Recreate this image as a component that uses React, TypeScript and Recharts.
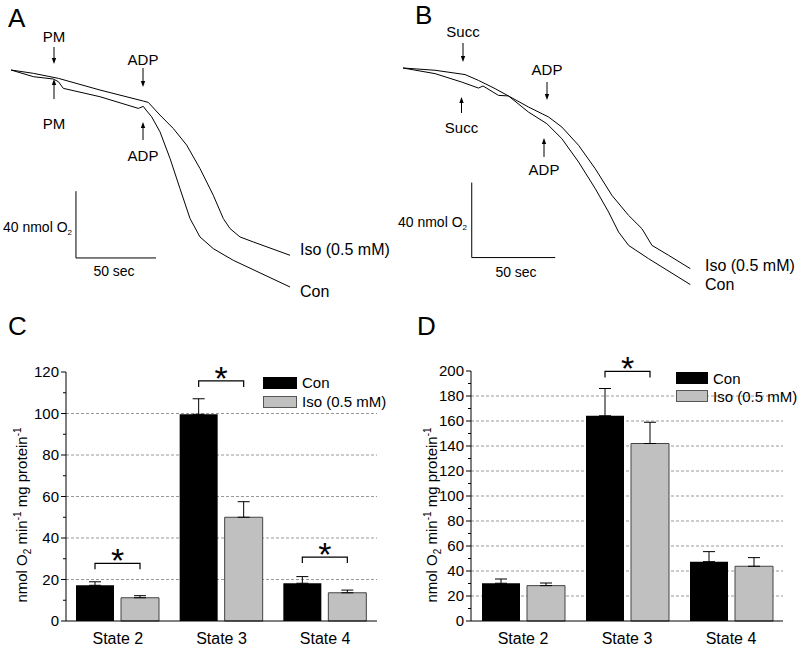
import React from "react";
import {
  LineChart,
  Line,
  XAxis,
  YAxis,
  BarChart,
  Bar,
  ErrorBar,
  CartesianGrid,
  Legend,
  ReferenceLine,
  Rectangle,
} from "recharts";

const FONT = '"Liberation Sans", Arial, Helvetica, sans-serif';
const BAR_GAP = 7;

// Panel A: pyruvate/malate traces (time in s, O2 in nmol)
const aConTime = [0, 14, 26.4, 29.6, 32.7, 55.6, 79.6, 82.7, 84.4, 87.9, 93.1, 99.4, 105.6, 111.9, 118.1, 126.4, 138.9, 174.4];
const aConO2 = [220, 216, 214.6, 213, 209, 204, 197, 198.2, 196, 192, 183, 167, 149, 131, 120, 113, 106, 90];
const aIsoTime = [0, 14, 27.5, 29.6, 55.6, 82.7, 85.8, 93.1, 101.4, 109.8, 118.1, 126.4, 132.7, 136.9, 143.1, 151.4, 174.4];
const aIsoO2 = [220, 218, 215.4, 215, 208, 201.4, 200.6, 193, 185, 175, 161, 145, 131, 125, 120, 117, 109];

// Panel B: succinate traces
const bConTime = [0, 19.2, 35.2, 45.2, 48, 57.2, 63.2, 75.2, 86.2, 95.2, 105.2, 115.2, 123.2, 129.2, 135.2, 147.2, 172.2];
const bConO2 = [220, 217, 212.5, 209.3, 210.4, 205.4, 205.1, 196.5, 190.3, 182.3, 169.9, 155.7, 143.2, 132.5, 125.4, 118.3, 104.5];
const bIsoTime = [0, 19.2, 37.2, 45.2, 55.2, 63.2, 75.2, 87.2, 95.2, 105.2, 115.2, 125.2, 135.2, 143.2, 149.2, 159.2, 172.2];
const bIsoO2 = [220, 218.8, 216.5, 213.4, 209, 205.1, 199.2, 193.9, 188.5, 178.8, 166.3, 152.1, 141.4, 134.3, 125.4, 120.1, 113];

// Panels C / D: respiration rates
const states = ["State 2", "State 3", "State 4"];

const conC = [17.2, 99.6, 18.2];
const conErrC = [1.7, 7.5, 3.2];
const isoC = [11.2, 50, 13.6];
const isoErrC = [1.0, 7.5, 1.3];
const sigC = [27.8, 115.7, 30.8];
const majorC = [0, 20, 40, 60, 80, 100, 120];
const minorC = [10, 30, 50, 70, 90, 110];
const gridC = [20, 40, 60, 80, 100];

const conD = [30.2, 164.2, 47.5];
const conErrD = [3.4, 21.8, 8];
const isoD = [28.3, 142, 43.8];
const isoErrD = [2.1, 17, 6.9];
const sigD = [null, 199.7, null];
const majorD = [0, 20, 40, 60, 80, 100, 120, 140, 160, 180, 200];
const minorD = [10, 30, 50, 70, 90, 110, 130, 150, 170, 190];
const gridD = [20, 40, 60, 80, 100, 120, 140, 160, 180];

const zipTrace = (t: number[], o2: number[]) => t.map((v, i) => ({ t: v, o2: o2[i] }));

const buildRows = (con: number[], conErr: number[], iso: number[], isoErr: number[], sig: (number | null)[]) =>
  states.map((s, i) => ({
    state: s,
    con: con[i],
    conErr: [0, conErr[i]],
    iso: iso[i],
    isoErr: [0, isoErr[i]],
    sig: sig[i],
  }));

function Trace({ left, top, width, height, yMin, con, iso, scaleT, scaleO2 }: any) {
  return (
    <div style={{ position: "absolute", left, top }}>
      <LineChart width={width} height={height} margin={{ top: 4, right: 4, bottom: 4, left: 4 }}>
        <XAxis type="number" dataKey="t" domain={[0, 175]} hide />
        <YAxis type="number" dataKey="o2" domain={[yMin, 220]} hide />
        <Line data={con} dataKey="o2" stroke="#000" strokeWidth={1} dot={false} isAnimationActive={false} />
        <Line data={iso} dataKey="o2" stroke="#000" strokeWidth={1} dot={false} isAnimationActive={false} />
        <ReferenceLine
          segment={[
            { x: scaleT, y: scaleO2 + 40 },
            { x: scaleT, y: scaleO2 },
          ]}
          stroke="#000"
          strokeWidth={1}
        />
        <ReferenceLine
          segment={[
            { x: scaleT, y: scaleO2 },
            { x: scaleT + 50, y: scaleO2 },
          ]}
          stroke="#000"
          strokeWidth={1}
        />
      </LineChart>
    </div>
  );
}

const YTick = (props: any) => {
  const { x, y, payload, labels } = props;
  const major = labels.includes(payload.value);
  return (
    <g>
      <line x1={x - (major ? 5 : 3)} x2={x} y1={y} y2={y} stroke="#000" strokeWidth={1} />
      {major && (
        <text x={x - 7} y={y} dy="0.36em" textAnchor="end" fontSize={15} fill="#000">
          {payload.value}
        </text>
      )}
    </g>
  );
};

const YTitle = ({ bx, cy }: any) => (
  <text transform={`rotate(-90 ${bx} ${cy})`} x={bx} y={cy} textAnchor="middle" fontSize={15} fill="#000">
    nmol O
    <tspan dy={4} fontSize={10}>2</tspan>
    <tspan dy={-4}> min</tspan>
    <tspan dy={-6} fontSize={10}>-1</tspan>
    <tspan dy={6}> mg protein</tspan>
    <tspan dy={-6} fontSize={10}>-1</tspan>
  </text>
);

const ConShape = (props: any) => {
  const { x, y, width, height, payload } = props;
  const sig = payload.sig;
  let bracket = null;
  if (sig != null) {
    const by = y + height - (sig * height) / payload.con;
    const x1 = x + width / 2;
    const x2 = x + width * 1.5 + BAR_GAP;
    bracket = (
      <g>
        <path d={`M${x1},${by + 6}V${by}H${x2}V${by + 6}`} fill="none" stroke="#000" strokeWidth={1.2} />
        <text x={(x1 + x2) / 2} y={by + 9} textAnchor="middle" fontSize={34} fill="#000">
          *
        </text>
      </g>
    );
  }
  return (
    <g>
      <Rectangle x={x} y={y} width={width} height={height} fill="#000" />
      {bracket}
    </g>
  );
};

const legendContent = (boxW: number, rowH: number) => (props: any) => (
  <div style={{ fontFamily: FONT, fontSize: 15, color: "#000" }}>
    {(props.payload || []).map((e: any) => (
      <div key={e.value} style={{ display: "flex", alignItems: "center", height: rowH }}>
        <span
          style={{
            display: "inline-block",
            width: boxW,
            height: 12,
            background: e.color,
            border: e.color === "#000" ? "none" : "1px solid #555",
            boxSizing: "border-box",
            marginRight: 5,
          }}
        />
        <span>{e.value}</span>
      </div>
    ))}
  </div>
);

function Rates({ left, rows, max, major, minor, grid, marginLeft, marginRight, marginTop, titleX, legendX, legendY, boxW, rowH }: any) {
  return (
    <div style={{ position: "absolute", left, top: 340 }}>
      <BarChart
        width={400}
        height={306}
        data={rows}
        barSize={38}
        barGap={BAR_GAP}
        margin={{ top: marginTop, right: marginRight, bottom: 0, left: marginLeft }}
      >
        <CartesianGrid vertical={false} horizontalValues={grid} stroke="#999" strokeDasharray="3 2" />
        <XAxis
          dataKey="state"
          axisLine={{ stroke: "#000" }}
          tickLine={false}
          tickSize={0}
          tickMargin={12}
          height={25}
          tick={{ fill: "#000", fontSize: 16 }}
        />
        <YAxis
          domain={[0, max]}
          ticks={[...major, ...minor]}
          interval={0}
          width={50}
          axisLine={{ stroke: "#000" }}
          tickLine={false}
          tickSize={0}
          tickMargin={0}
          tick={(p: any) => <YTick {...p} labels={major} />}
          label={<YTitle bx={titleX} cy={175} />}
        />
        <Legend
          layout="vertical"
          align="center"
          verticalAlign="middle"
          content={legendContent(boxW, rowH)}
          wrapperStyle={{ left: legendX, top: legendY, width: 130 }}
        />
        <Bar dataKey="con" name="Con" fill="#000" shape={ConShape} isAnimationActive={false}>
          <ErrorBar dataKey="conErr" width={6} stroke="#000" strokeWidth={1} direction="y" />
        </Bar>
        <Bar dataKey="iso" name="Iso (0.5 mM)" fill="#c0c0c0" stroke="#444" strokeWidth={1} isAnimationActive={false}>
          <ErrorBar dataKey="isoErr" width={6} stroke="#000" strokeWidth={1} direction="y" />
        </Bar>
      </BarChart>
    </div>
  );
}

const Arrow = ({ x, from, to }: any) => {
  const dir = to > from ? 1 : -1;
  return (
    <g>
      <line x1={x} x2={x} y1={from} y2={to - dir * 4} stroke="#000" strokeWidth={1} />
      <path d={`M${x - 2.2},${to - dir * 6}L${x + 2.2},${to - dir * 6}L${x},${to}Z`} fill="#000" />
    </g>
  );
};

const O2Label = ({ x, y }: any) => (
  <text x={x} y={y} textAnchor="end" fontSize={14}>
    40 nmol O<tspan dy={3} fontSize={8}>2</tspan>
  </text>
);

export default function App() {
  const rowsC = buildRows(conC, conErrC, isoC, isoErrC, sigC);
  const rowsD = buildRows(conD, conErrD, isoD, isoErrD, sigD);
  return (
    <div
      style={{
        position: "absolute",
        left: 0,
        top: 0,
        width: 800,
        height: 646,
        background: "#fff",
        fontFamily: FONT,
        overflow: "hidden",
      }}
    >
      <Trace
        left={7}
        top={66}
        width={288}
        height={225}
        yMin={90}
        con={zipTrace(aConTime, aConO2)}
        iso={zipTrace(aIsoTime, aIsoO2)}
        scaleT={40.6}
        scaleO2={107.4}
      />
      <Trace
        left={399}
        top={64}
        width={300}
        height={233}
        yMin={100}
        con={zipTrace(bConTime, bConO2)}
        iso={zipTrace(bIsoTime, bIsoO2)}
        scaleT={41.2}
        scaleO2={118.9}
      />
      <Rates
        left={0}
        rows={rowsC}
        max={120}
        major={majorC}
        minor={minorC}
        grid={gridC}
        marginLeft={16}
        marginRight={23}
        marginTop={32}
        titleX={27}
        legendX={263}
        legendY={33}
        boxW={34}
        rowH={19}
      />
      <Rates
        left={400}
        rows={rowsD}
        max={200}
        major={majorD}
        minor={minorD}
        grid={gridD}
        marginLeft={21}
        marginRight={17}
        marginTop={31}
        titleX={37}
        legendX={276}
        legendY={29}
        boxW={32}
        rowH={18}
      />
      <svg
        width={800}
        height={646}
        style={{ position: "absolute", left: 0, top: 0, pointerEvents: "none" }}
        fontFamily={FONT}
        fill="#000"
      >
        <text x={8} y={27} fontSize={26}>A</text>
        <text x={415} y={24} fontSize={26}>B</text>
        <text x={8} y={335} fontSize={26}>C</text>
        <text x={417} y={335} fontSize={26}>D</text>

        <g fontSize={15} textAnchor="middle">
          <text x={54} y={42}>PM</text>
          <text x={54} y={129}>PM</text>
          <text x={143} y={65}>ADP</text>
          <text x={143} y={161}>ADP</text>
          <text x={463} y={37}>Succ</text>
          <text x={461.5} y={133}>Succ</text>
          <text x={547} y={75}>ADP</text>
          <text x={544} y={175}>ADP</text>
        </g>
        <Arrow x={54} from={47} to={64} />
        <Arrow x={54} from={99} to={79} />
        <Arrow x={143} from={68} to={87} />
        <Arrow x={143} from={140} to={122} />
        <Arrow x={463} from={43} to={62} />
        <Arrow x={461.5} from={113} to={97} />
        <Arrow x={547} from={82} to={100} />
        <Arrow x={544} from={157} to={138} />

        <O2Label x={72} y={232} />
        <O2Label x={467} y={227} />
        <text x={114} y={276} fontSize={14} textAnchor="middle">50 sec</text>
        <text x={516} y={277} fontSize={14} textAnchor="middle">50 sec</text>

        <g fontSize={16}>
          <text x={300} y={255}>Iso (0.5 mM)</text>
          <text x={300} y={297}>Con</text>
          <text x={705} y={271}>Iso (0.5 mM)</text>
          <text x={705} y={290}>Con</text>
        </g>
      </svg>
    </div>
  );
}
